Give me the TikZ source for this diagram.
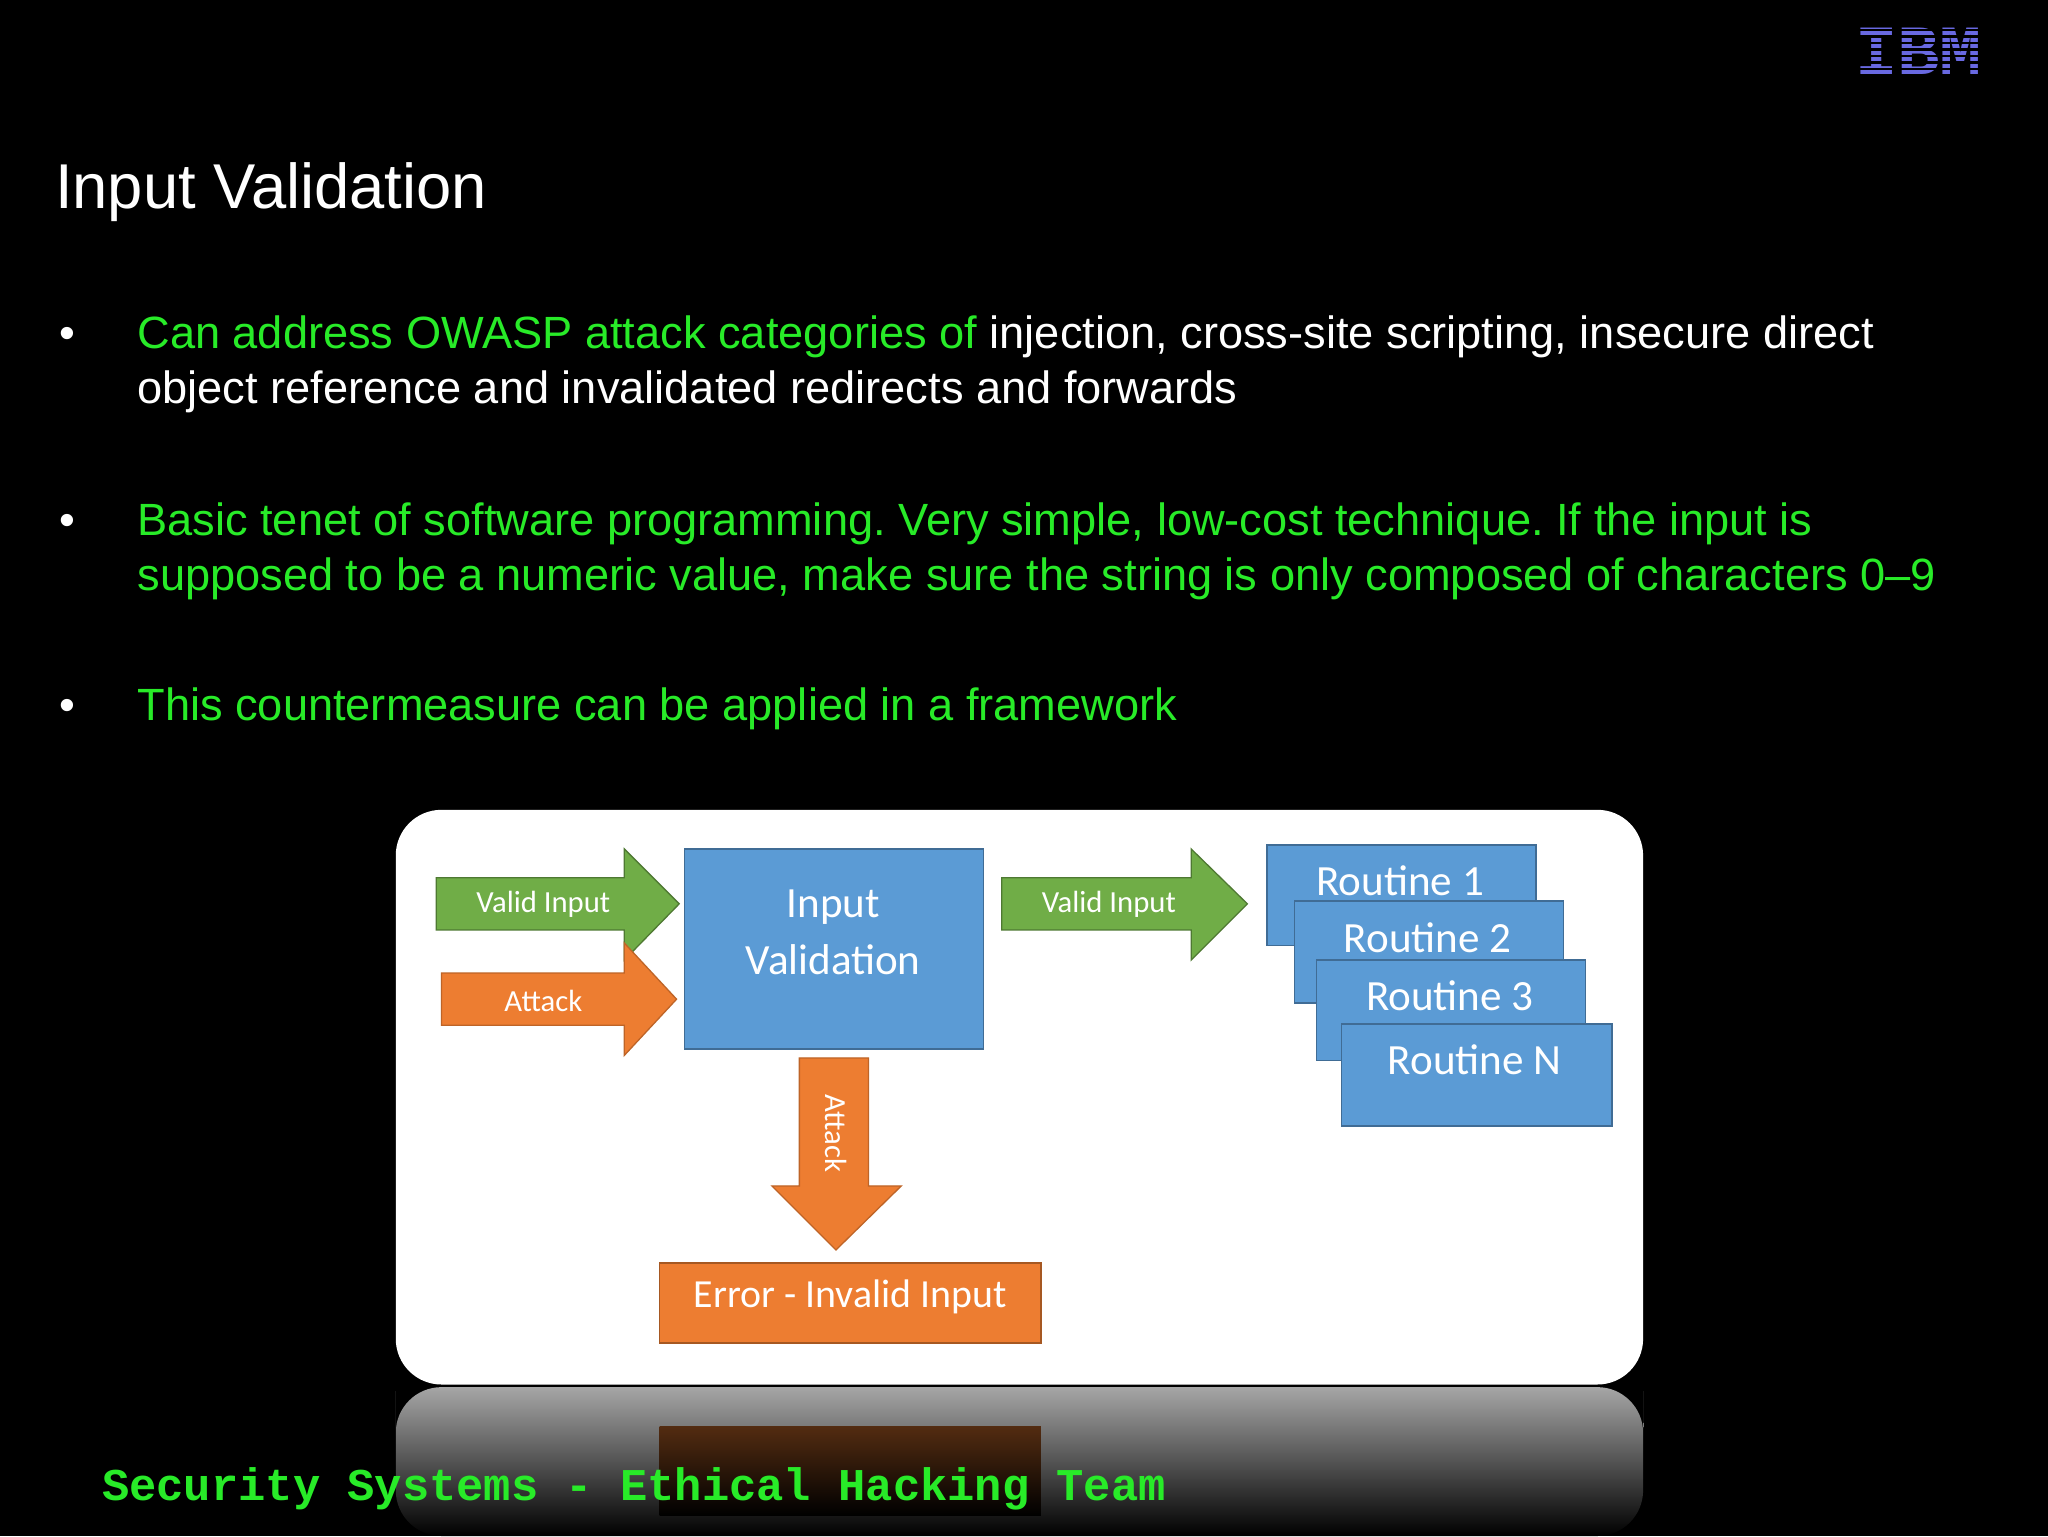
\documentclass[tikz,border=0pt]{standalone}
\usepackage{fontspec}
\setmainfont{Liberation Sans}
\newfontfamily\carlitofam{Carlito}
\newfontfamily\monofam{Liberation Mono}
\usetikzlibrary{shapes.arrows}
\definecolor{gtxt}{RGB}{40,235,40}
\definecolor{ogreen}{RGB}{112,173,71}
\definecolor{oorange}{RGB}{237,125,49}
\definecolor{oblue}{RGB}{91,155,213}
\definecolor{ibm}{RGB}{105,105,225}
\tikzset{
  bl/.style={anchor=base west,font=\fontsize{34.6}{34.6}\selectfont,text=white,inner sep=0},
  rbox/.style={draw=oblue!70!black,fill=oblue,line width=1.2pt},
  rtxt/.style={text=white,font=\carlitofam\fontsize{33}{44}\selectfont},
  atxt/.style={text=white,font=\carlitofam\fontsize{23.5}{23.5}\selectfont},
}
\frenchspacing
\begin{document}
\begin{tikzpicture}[x=1pt,y=-1pt]
\fill[black] (0,0) rectangle (1568,1176);
\useasboundingbox (0,0) rectangle (1568,1176);
% IBM logo
\node[text=ibm,font=\fontsize{54}{54}\selectfont\bfseries\monofam] (logo) at (1469,39) {IBM};
\foreach \y in {22,27,...,57}{\fill[black] (1410,\y) rectangle (1530,\y+1.8);}
% title
\node[anchor=base west,text=white,font=\fontsize{48.5}{48.5}\selectfont,inner sep=0] (title) at (42,160) {Input Validation};
% bullets
\foreach \y in {267,410,552}{\node[bl] at (45,\y) {•};}
\node[bl] (b1) at (105,267) {\textcolor{gtxt}{Can address OWASP attack categories of} injection, cross-site scripting, insecure direct};
\node[bl] (b1b) at (105,309) {object reference and invalidated redirects and forwards};
\node[bl,text=gtxt] (b2) at (105,410) {Basic tenet of software programming. Very simple, low-cost technique. If the input is};
\node[bl,text=gtxt] (b2b) at (105,452) {supposed to be a numeric value, make sure the string is only composed of characters 0–9};
\node[bl,text=gtxt] (b3) at (105,552) {This countermeasure can be applied in a framework};
% reflection
\shade[top color=gray!70,bottom color=black,rounded corners=35pt] (303,1176) -- (303,1100) -- (303,1062) -- (1258,1062) -- (1258,1100) -- (1258,1176) -- cycle;
\shade[top color=oorange!35!black,bottom color=black] (505,1092) rectangle (797,1160);
% panel
\fill[white,rounded corners=35pt] (303,620) rectangle (1258,1060);
% green arrow 1
\filldraw[fill=ogreen,draw=ogreen!70!black,line width=1pt] (334,672)--(478,672)--(478,650)--(520,692)--(478,735)--(478,712)--(334,712)--cycle;
\node[atxt] (v1) at (416,692) {Valid Input};
% orange arrow
\filldraw[fill=oorange,draw=oorange!80!black,line width=1pt] (338,745)--(478,745)--(478,722)--(518,765)--(478,808)--(478,785)--(338,785)--cycle;
\node[atxt] (at1) at (416,766) {Attack};
% input validation
\draw[rbox] (524,650) rectangle (753,803);
\node[rtxt,align=center] (iv) at (638,714) {Input\\Validation};
% green arrow 2
\filldraw[fill=ogreen,draw=ogreen!70!black,line width=1pt] (767,672)--(912,672)--(912,650)--(955,692)--(912,735)--(912,712)--(767,712)--cycle;
\node[atxt] (v2) at (849,692) {Valid Input};
% routines
\draw[rbox] (970,647) rectangle (1176,724);
\node[rtxt] (r1) at (1072,674) {Routine 1};
\draw[rbox] (991,690) rectangle (1197,768);
\node[rtxt] (r2) at (1093,718) {Routine 2};
\draw[rbox] (1008,735) rectangle (1214,812);
\node[rtxt] (r3) at (1110,762) {Routine 3};
\draw[rbox] (1027,784) rectangle (1234,862);
\node[rtxt] (rn) at (1129,811) {Routine N};
% down attack
\filldraw[fill=oorange,draw=oorange!80!black,line width=1pt] (612,810)--(665,810)--(665,908)--(690,908)--(640,957)--(591,908)--(612,908)--cycle;
\node[atxt,rotate=-90] (at2) at (640,868) {Attack};
% error
\filldraw[fill=oorange,draw=oorange!70!black,line width=1.2pt] (505,967) rectangle (797,1028);
\node[rtxt,font=\carlitofam\fontsize{30.5}{30.5}\selectfont] (err) at (651,993) {Error - Invalid Input};
% footer
\node[anchor=base west,inner sep=0,text=gtxt,font=\monofam\bfseries\fontsize{34.8}{34.8}\selectfont] (foot) at (78,1149) {Security Systems - Ethical Hacking Team};
\end{tikzpicture}
\end{document}
